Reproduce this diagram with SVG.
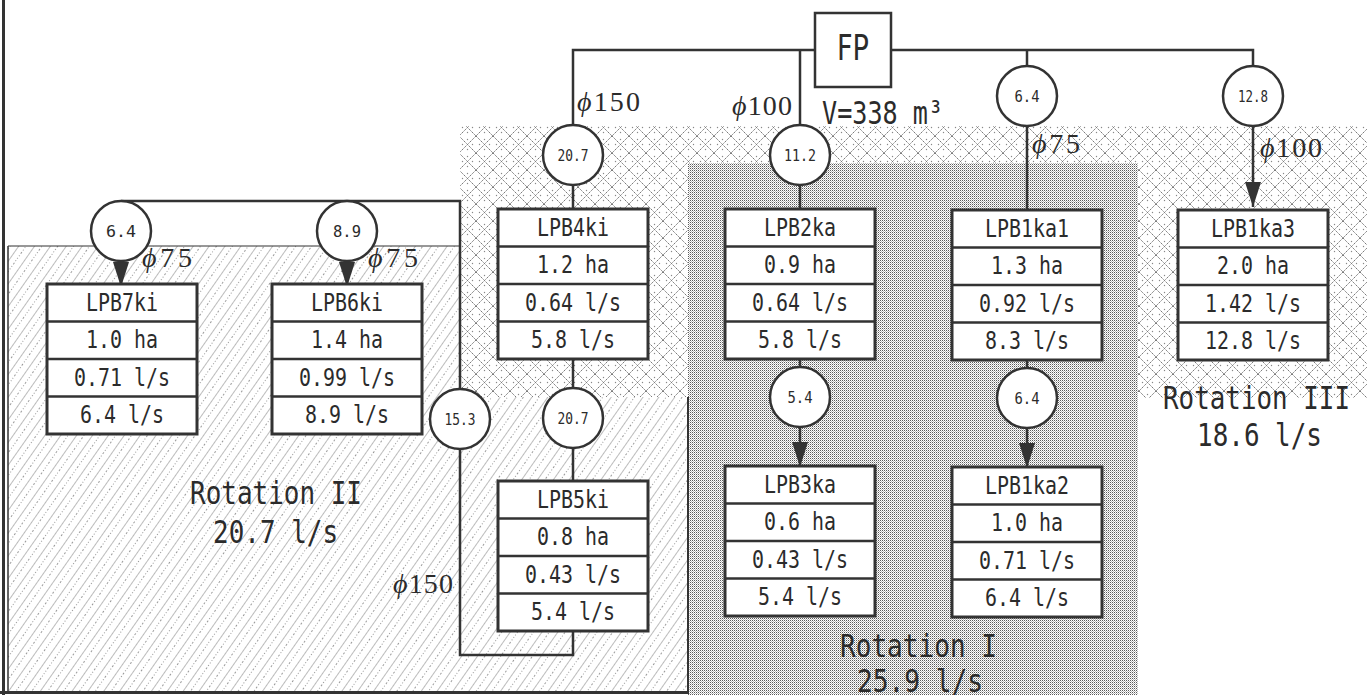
<svg xmlns="http://www.w3.org/2000/svg" width="1371" height="695" viewBox="0 0 1371 695">
<style>
.ln{fill:none;stroke:#333;stroke-width:2.5}
.arr{fill:none;stroke:#333;stroke-width:2.5;marker-end:url(#ah)}
.box rect{fill:#fff;stroke:#333;stroke-width:3}
.box path{fill:none;stroke:#333;stroke-width:2.5}
.circ circle{fill:#fff;stroke:#333;stroke-width:2.5}
.bt{font-family:"DejaVu Sans Mono","Liberation Mono",monospace;font-size:24px;fill:#2b2b2b;text-anchor:middle}
.ct{font-family:"DejaVu Sans Mono","Liberation Mono",monospace;font-size:15px;fill:#2b2b2b;text-anchor:middle}
.rt{font-family:"DejaVu Sans Mono","Liberation Mono",monospace;font-size:32px;fill:#2b2b2b;text-anchor:middle}
.phi{font-family:"Liberation Serif","DejaVu Serif",serif;font-size:28px;fill:#2b2b2b}
.phi tspan{font-style:italic}
.frame{fill:none;stroke:#333}
</style>
<defs>
<marker id="ah" viewBox="0 0 25 16" refX="25" refY="8" markerWidth="25" markerHeight="16" markerUnits="userSpaceOnUse" orient="auto">
<path d="M0,0 L25,8 L0,16 z" fill="#333"/>
</marker>
<pattern id="hatch" width="13" height="13" patternUnits="userSpaceOnUse" patternTransform="rotate(35)">
<rect width="13" height="13" fill="#fff"/>
<path d="M0,0 V13" stroke="#7a7a7a" stroke-width="1"/>
<path d="M6.5,0 V13" stroke="#9a9a9a" stroke-width="1" stroke-dasharray="1 2"/>
</pattern>
<pattern id="cross" width="17" height="17" patternUnits="userSpaceOnUse">
<rect width="17" height="17" fill="#fff"/>
<path d="M0,0 L17,17 M17,0 L0,17" stroke="#7a7a7a" stroke-width="1" stroke-dasharray="1.6 0.7"/>
<circle cx="8.5" cy="3.5" r="0.7" fill="#888"/>
<circle cx="8.5" cy="13.5" r="0.7" fill="#888"/>
<circle cx="3.5" cy="8.5" r="0.7" fill="#888"/>
<circle cx="13.5" cy="8.5" r="0.7" fill="#888"/>
</pattern>
<pattern id="stip" width="2" height="2" patternUnits="userSpaceOnUse">
<rect width="2" height="2" fill="#fff"/>
<rect x="0" y="0" width="1" height="1" fill="#5a5a5a"/>
<rect x="1" y="1" width="1" height="1" fill="#bababa"/>
</pattern>
</defs>

<g id="regions">
<rect id="rot3-area" x="460" y="126" width="907" height="272" fill="url(#cross)"/>
<rect id="rot1-area" x="688" y="163" width="450" height="532" fill="url(#stip)"/>
<polygon id="rot2-area" points="8,246 460,246 460,397 688,397 688,691 8,691" fill="url(#hatch)"/>
<path class="frame" d="M8,246 H460" stroke-width="1.2"/>
<path class="frame" d="M8,246 V691" stroke-width="1.5"/>
<path class="frame" d="M688,397 V692" stroke-width="2"/>
<path class="frame" d="M3.5,0 V695" stroke-width="3"/>
<path class="frame" d="M0,692.5 H689" stroke-width="3"/>
</g>

<g id="connectors">
<path class="ln" d="M573,125 V50 H815"/>
<path class="ln" d="M891,50 H1253 V66"/>
<path class="ln" d="M800,50 V125"/>
<path class="ln" d="M1027,50 V66"/>
<path class="ln" d="M573,185 V209"/>
<path class="ln" d="M573,359 V388"/>
<path class="ln" d="M573,448 V481"/>
<path class="ln" d="M460,389 V201 H121"/>
<path class="arr" d="M121,261 V287"/>
<path class="arr" d="M347,261 V287"/>
<path class="ln" d="M460,449 V655 H573 V631"/>
<path class="ln" d="M800,185 V209"/>
<path class="ln" d="M800,359 V367"/>
<path class="arr" d="M800,427 V467"/>
<path class="ln" d="M1027,126 V210"/>
<path class="ln" d="M1027,360 V368"/>
<path class="arr" d="M1027,428 V468"/>
<path class="arr" d="M1253,126 V207"/>
</g>

<g id="labels">
<text class="phi" x="577" y="111" textLength="63"><tspan>ϕ</tspan>150</text>
<text class="phi" x="732" y="115" textLength="60"><tspan>ϕ</tspan>100</text>
<text class="phi" x="142" y="267" textLength="50"><tspan>ϕ</tspan>75</text>
<text class="phi" x="368" y="267" textLength="50"><tspan>ϕ</tspan>75</text>
<text class="phi" x="1032" y="153" textLength="48"><tspan>ϕ</tspan>75</text>
<text class="phi" x="1260" y="157" textLength="62"><tspan>ϕ</tspan>100</text>
<text class="phi" x="393" y="593" textLength="60"><tspan>ϕ</tspan>150</text>
<text class="rt" x="822" y="124" style="text-anchor:start" textLength="121" lengthAdjust="spacingAndGlyphs">V=338 m³</text>
<text class="rt" x="276" y="504" textLength="172" lengthAdjust="spacingAndGlyphs">Rotation II</text>
<text class="rt" x="275.5" y="543" textLength="125" lengthAdjust="spacingAndGlyphs">20.7 l/s</text>
<text class="rt" x="918.5" y="657" textLength="157" lengthAdjust="spacingAndGlyphs">Rotation I</text>
<text class="rt" x="920" y="692" textLength="126" lengthAdjust="spacingAndGlyphs">25.9 l/s</text>
<text class="rt" x="1256.5" y="409" textLength="187" lengthAdjust="spacingAndGlyphs">Rotation III</text>
<text class="rt" x="1259.5" y="446" textLength="125" lengthAdjust="spacingAndGlyphs">18.6 l/s</text>
</g>

<g id="FP">
<rect x="815" y="13" width="76" height="74" fill="#fff" stroke="#333" stroke-width="2.5"/>
<text x="853" y="60" font-family="DejaVu Sans, sans-serif" font-size="36" fill="#2b2b2b" text-anchor="middle" textLength="32" lengthAdjust="spacingAndGlyphs">FP</text>
</g>

<g id="c-20-7a" class="circ"><circle cx="573" cy="155" r="30"/><text class="ct" x="573" y="160.5" textLength="31" lengthAdjust="spacingAndGlyphs">20.7</text></g>
<g id="c-11-2" class="circ"><circle cx="800" cy="155" r="30"/><text class="ct" x="800" y="160.5" textLength="32" lengthAdjust="spacingAndGlyphs">11.2</text></g>
<g id="c-6-4a" class="circ"><circle cx="1027" cy="96" r="30"/><text class="ct" x="1027" y="101.5" textLength="25" lengthAdjust="spacingAndGlyphs">6.4</text></g>
<g id="c-12-8" class="circ"><circle cx="1253" cy="96" r="30"/><text class="ct" x="1253" y="101.5" textLength="30" lengthAdjust="spacingAndGlyphs">12.8</text></g>
<g id="c-6-4b" class="circ"><circle cx="121" cy="231" r="30"/><text class="ct" x="121" y="236.5" textLength="30" lengthAdjust="spacingAndGlyphs">6.4</text></g>
<g id="c-8-9" class="circ"><circle cx="347" cy="231" r="30"/><text class="ct" x="347" y="236.5" textLength="28" lengthAdjust="spacingAndGlyphs">8.9</text></g>
<g id="c-15-3" class="circ"><circle cx="460" cy="419" r="30"/><text class="ct" x="460" y="424.5" textLength="31" lengthAdjust="spacingAndGlyphs">15.3</text></g>
<g id="c-20-7b" class="circ"><circle cx="573" cy="418" r="30"/><text class="ct" x="573" y="423.5" textLength="31" lengthAdjust="spacingAndGlyphs">20.7</text></g>
<g id="c-5-4" class="circ"><circle cx="800" cy="397" r="30"/><text class="ct" x="800" y="402.5" textLength="25" lengthAdjust="spacingAndGlyphs">5.4</text></g>
<g id="c-6-4c" class="circ"><circle cx="1027" cy="398" r="30"/><text class="ct" x="1027" y="403.5" textLength="25" lengthAdjust="spacingAndGlyphs">6.4</text></g>

<g id="LPB7ki" class="box"><rect x="47" y="284" width="150" height="150"/><path d="M47,321.5h150M47,359h150M47,396.5h150"/>
<text class="bt" x="122" y="310.75" textLength="72" lengthAdjust="spacingAndGlyphs">LPB7ki</text>
<text class="bt" x="122" y="348.25" textLength="72" lengthAdjust="spacingAndGlyphs">1.0 ha</text>
<text class="bt" x="122" y="385.75" textLength="96" lengthAdjust="spacingAndGlyphs">0.71 l/s</text>
<text class="bt" x="122" y="423.25" textLength="84" lengthAdjust="spacingAndGlyphs">6.4 l/s</text></g>

<g id="LPB6ki" class="box"><rect x="272" y="284" width="150" height="150"/><path d="M272,321.5h150M272,359h150M272,396.5h150"/>
<text class="bt" x="347" y="310.75" textLength="72" lengthAdjust="spacingAndGlyphs">LPB6ki</text>
<text class="bt" x="347" y="348.25" textLength="72" lengthAdjust="spacingAndGlyphs">1.4 ha</text>
<text class="bt" x="347" y="385.75" textLength="96" lengthAdjust="spacingAndGlyphs">0.99 l/s</text>
<text class="bt" x="347" y="423.25" textLength="84" lengthAdjust="spacingAndGlyphs">8.9 l/s</text></g>

<g id="LPB4ki" class="box"><rect x="498" y="209" width="150" height="150"/><path d="M498,246.5h150M498,284h150M498,321.5h150"/>
<text class="bt" x="573" y="235.75" textLength="72" lengthAdjust="spacingAndGlyphs">LPB4ki</text>
<text class="bt" x="573" y="273.25" textLength="72" lengthAdjust="spacingAndGlyphs">1.2 ha</text>
<text class="bt" x="573" y="310.75" textLength="96" lengthAdjust="spacingAndGlyphs">0.64 l/s</text>
<text class="bt" x="573" y="348.25" textLength="84" lengthAdjust="spacingAndGlyphs">5.8 l/s</text></g>

<g id="LPB5ki" class="box"><rect x="498" y="481" width="150" height="150"/><path d="M498,518.5h150M498,556h150M498,593.5h150"/>
<text class="bt" x="573" y="507.75" textLength="72" lengthAdjust="spacingAndGlyphs">LPB5ki</text>
<text class="bt" x="573" y="545.25" textLength="72" lengthAdjust="spacingAndGlyphs">0.8 ha</text>
<text class="bt" x="573" y="582.75" textLength="96" lengthAdjust="spacingAndGlyphs">0.43 l/s</text>
<text class="bt" x="573" y="620.25" textLength="84" lengthAdjust="spacingAndGlyphs">5.4 l/s</text></g>

<g id="LPB2ka" class="box"><rect x="725" y="209" width="150" height="150"/><path d="M725,246.5h150M725,284h150M725,321.5h150"/>
<text class="bt" x="800" y="235.75" textLength="72" lengthAdjust="spacingAndGlyphs">LPB2ka</text>
<text class="bt" x="800" y="273.25" textLength="72" lengthAdjust="spacingAndGlyphs">0.9 ha</text>
<text class="bt" x="800" y="310.75" textLength="96" lengthAdjust="spacingAndGlyphs">0.64 l/s</text>
<text class="bt" x="800" y="348.25" textLength="84" lengthAdjust="spacingAndGlyphs">5.8 l/s</text></g>

<g id="LPB3ka" class="box"><rect x="725" y="466" width="150" height="150"/><path d="M725,503.5h150M725,541h150M725,578.5h150"/>
<text class="bt" x="800" y="492.75" textLength="72" lengthAdjust="spacingAndGlyphs">LPB3ka</text>
<text class="bt" x="800" y="530.25" textLength="72" lengthAdjust="spacingAndGlyphs">0.6 ha</text>
<text class="bt" x="800" y="567.75" textLength="96" lengthAdjust="spacingAndGlyphs">0.43 l/s</text>
<text class="bt" x="800" y="605.25" textLength="84" lengthAdjust="spacingAndGlyphs">5.4 l/s</text></g>

<g id="LPB1ka1" class="box"><rect x="952" y="210" width="150" height="150"/><path d="M952,247.5h150M952,285h150M952,322.5h150"/>
<text class="bt" x="1027" y="236.75" textLength="84" lengthAdjust="spacingAndGlyphs">LPB1ka1</text>
<text class="bt" x="1027" y="274.25" textLength="72" lengthAdjust="spacingAndGlyphs">1.3 ha</text>
<text class="bt" x="1027" y="311.75" textLength="96" lengthAdjust="spacingAndGlyphs">0.92 l/s</text>
<text class="bt" x="1027" y="349.25" textLength="84" lengthAdjust="spacingAndGlyphs">8.3 l/s</text></g>

<g id="LPB1ka2" class="box"><rect x="952" y="467" width="150" height="150"/><path d="M952,504.5h150M952,542h150M952,579.5h150"/>
<text class="bt" x="1027" y="493.75" textLength="84" lengthAdjust="spacingAndGlyphs">LPB1ka2</text>
<text class="bt" x="1027" y="531.25" textLength="72" lengthAdjust="spacingAndGlyphs">1.0 ha</text>
<text class="bt" x="1027" y="568.75" textLength="96" lengthAdjust="spacingAndGlyphs">0.71 l/s</text>
<text class="bt" x="1027" y="606.25" textLength="84" lengthAdjust="spacingAndGlyphs">6.4 l/s</text></g>

<g id="LPB1ka3" class="box"><rect x="1178" y="210" width="150" height="150"/><path d="M1178,247.5h150M1178,285h150M1178,322.5h150"/>
<text class="bt" x="1253" y="236.75" textLength="84" lengthAdjust="spacingAndGlyphs">LPB1ka3</text>
<text class="bt" x="1253" y="274.25" textLength="72" lengthAdjust="spacingAndGlyphs">2.0 ha</text>
<text class="bt" x="1253" y="311.75" textLength="96" lengthAdjust="spacingAndGlyphs">1.42 l/s</text>
<text class="bt" x="1253" y="349.25" textLength="96" lengthAdjust="spacingAndGlyphs">12.8 l/s</text></g>
</svg>
